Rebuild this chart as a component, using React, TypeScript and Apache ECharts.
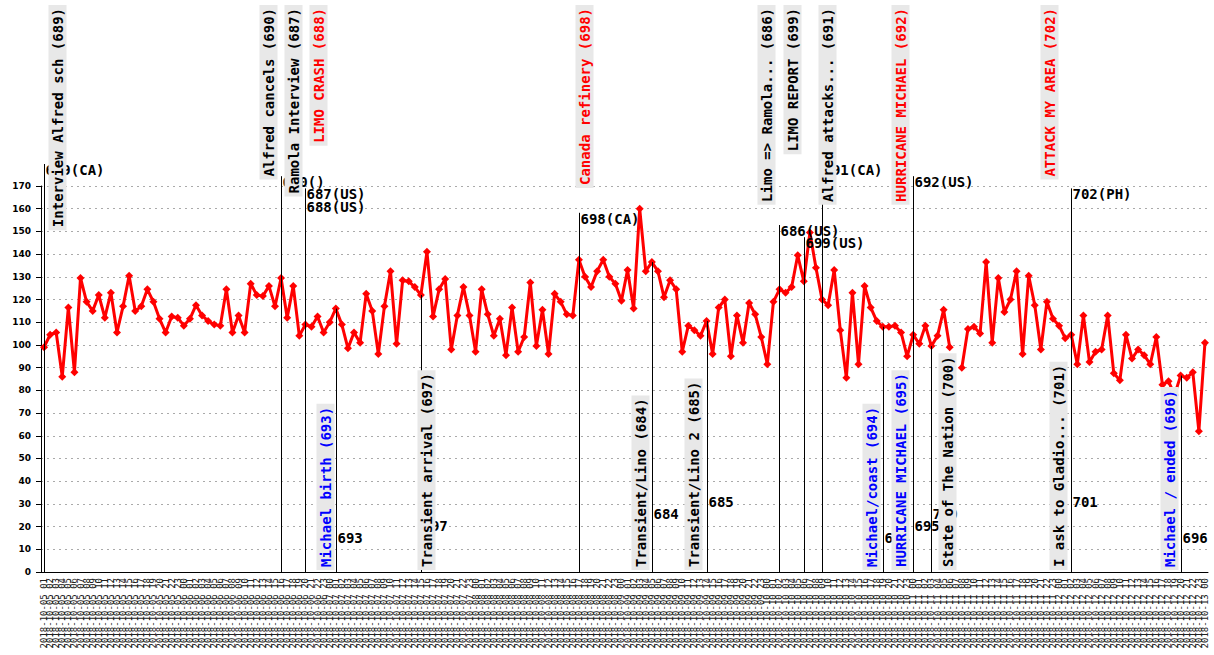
import React, { useEffect, useRef } from "react";
import * as echarts from "echarts";

// ---------- data ----------
const startDay = 5;
const categories: string[] = [];
for (let i = 0; i < 192; i++) {
  const h = (i + 1) % 24;
  const d = startDay + Math.floor((i + 1) / 24);
  categories.push(`2018-10-${String(d).padStart(2, "0")} ${String(h).padStart(2, "0")}`);
}

const values: (number | null)[] = [
  99, 104.5, 105.5, 86, 116.5, 88, 129.5, 119, 115, 122,
  112, 123, 105.5, 117, 130.5, 115, 117, 124.5, 119, 111.5,
  105.5, 112.5, 112, 108.5, 111.5, 117.5, 113, 110.5, 109, 108.5,
  124.5, 105.5, 113, 105.5, 127, 122, 121.5, 126, 117, 129.5,
  112, 126, 104, 109, 108, 112.5, 105.5, 110, 116, 109,
  98.5, 105.5, 101, 122.5, 115, 96, 117, 132.5, 100.5, 128.5,
  128, 125.5, 122, 141, 112.5, 124.5, 129, 98, 113, 125.5,
  113, 97, 124.5, 113.5, 104, 111.5, 95.5, 116.5, 97, 103.5,
  127.5, 99.5, 115.5, 96, 122.5, 119, 113.5, 113, 137.5, 130,
  125.5, 132.5, 137.5, 130, 127, 119.5, 133, 116, 160, 132.5,
  136.5, 132.5, 121, 128.5, 124.5, 97, 108.5, 106.5, 104, 110.5,
  96, 116.5, 120, 95, 113, 101, 118.5, 113.5, 103.5, 91.5,
  119, 124.5, 123, 125.5, 139.5, 128, 149.5, 134, 120, 117.5,
  133, 106.5, 85.5, 123, 91.5, 126, 116.5, 110.5, 108, 108,
  108.5, 105.5, 95, 104.5, 100.5, 108.5, 99.5, 104, 115.5, 99,
  null, 90, 107, 108, 105, 136.5, 101, 129.5, 114.5, 120,
  132.5, 96, 130.5, 117.5, 98, 119, 111.5, 108.5, 103, 104.5,
  91.5, 113, 92.5, 97, 98, 113, 87.5, 84.5, 104.5, 94,
  98, 95.5, 91.5, 103.5, 82.5, 84, 78, 86.5, 85.5, 88,
  62, 101,
];

// events shown above the plot (line from the label down to the axis)
const topIdx = [0, 39, 43, 43, 88, 121, 125, 128, 143, 169];
const topTitles = [
  "Interview Alfred sch (689)",
  "Alfred cancels (690)",
  "Ramola Interview (687)",
  "LIMO CRASH (688)",
  "Canada refinery (698)",
  "Limo => Ramola... (686)",
  "LIMO REPORT (699)",
  "Alfred attacks... (691)",
  "HURRICANE MICHAEL (692)",
  "ATTACK MY AREA (702)",
];
const topTags = ["689(CA)", "690()", "687(US)", "688(US)", "698(CA)", "686(US)", "699(US)", "691(CA)", "692(US)", "702(PH)"];
const topColors = ["#000000", "#000000", "#000000", "#ff0000", "#ff0000", "#000000", "#000000", "#000000", "#ff0000", "#ff0000"];

// events shown below (line from the data point down to the axis)
const bottomIdx = [48, 62, 100, 109, 138, 143, 146, 169, 187];
const bottomTitles = [
  "Michael birth (693)",
  "Transient arrival (697)",
  "Transient/Lino (684)",
  "Transient/Lino 2 (685)",
  "Michael/coast (694)",
  "HURRICANE MICHAEL (695)",
  "State of The Nation (700)",
  "I ask to Gladio... (701)",
  "Michael / ended (696)",
];
const bottomTags = ["693", "697", "684", "685", "694", "695", "700", "701", "696"];
const bottomColors = ["#0000ff", "#000000", "#000000", "#000000", "#0000ff", "#0000ff", "#000000", "#000000", "#0000ff"];

// ---------- layout ----------
const topBoxOffset = [13, -13, -12, 13, 5, -13, -12, 5, -13, -22];
const topTagRow = [0, 1, 2, 3, 4, 5, 6, 0, 1, 2];
const bottomBoxOffset = [-11, 5, -12, -14, -12, -13, 16, -13, -12];
const bottomTagRow = [0, 1, 2, 3, 0, 1, 2, 3, 0];

const MONO = '"DejaVu Sans Mono", monospace';

export default function App() {
  const ref = useRef<HTMLDivElement>(null);
  useEffect(() => {
    if (!ref.current) return;
    const chart = echarts.init(ref.current, null, { renderer: "svg" });
    chart.setOption({
      animation: false,
      backgroundColor: "#ffffff",
      grid: { left: 41, right: 6, top: 186, bottom: 83, containLabel: false },
      xAxis: {
        type: "category",
        data: categories,
        boundaryGap: true,
        axisLine: { lineStyle: { color: "#000", width: 1 } },
        axisTick: { show: false },
        axisLabel: {
          interval: 0,
          rotate: 90,
          fontSize: 9,
          fontFamily: MONO,
          color: "#222",
          margin: 6,
        },
        splitLine: { show: false },
      },
      yAxis: {
        type: "value",
        min: 0,
        max: 170,
        interval: 10,
        axisLine: { show: true, lineStyle: { color: "#000", width: 1 } },
        axisTick: { show: true, length: 5, lineStyle: { color: "#000" } },
        axisLabel: {
          fontSize: 9,
          fontWeight: "bold",
          fontFamily: '"DejaVu Sans", sans-serif',
          color: "#000",
          margin: 10,
        },
        splitLine: { show: true, lineStyle: { color: "#aaaaaa", type: [2, 4], width: 1 } },
      },
      series: [
        {
          type: "line",
          data: values,
          connectNulls: false,
          lineStyle: { color: "#ff0000", width: 3 },
          itemStyle: { color: "#ff0000" },
          symbol: "diamond",
          symbolSize: 8,
          z: 2,
        },
      ],
    });

    const toPx = (i: number, v: number) =>
      chart.convertToPixel({ seriesIndex: 0 }, [i, v]) as number[];
    const axisY = toPx(0, 0)[1];
    const font = `bold 14px ${MONO}`;
    const els: any[] = [];

    topIdx.forEach((idx, k) => {
      const x = Math.round(toPx(idx, 0)[0]) + 0.5;
      const ty = 170 + 12.2 * topTagRow[k];
      els.push({ type: "line", z: 50, shape: { x1: x, y1: ty - 6, x2: x, y2: axisY }, style: { stroke: "#000", lineWidth: 1 } });
      els.push({ type: "text", z: 60, x: x + 1, y: ty, style: { text: topTags[k], fill: "#000", font, align: "left", verticalAlign: "middle" } });
      els.push({
        type: "text", z: 70, x: x + topBoxOffset[k], y: 5, rotation: Math.PI / 2,
        style: { text: topTitles[k], fill: topColors[k], font, align: "right", verticalAlign: "middle", backgroundColor: "#e8e8e8", padding: [2, 3, 2, 3] },
      });
    });

    bottomIdx.forEach((idx, k) => {
      const v = values[idx] as number;
      const p = toPx(idx, v);
      const x = Math.round(p[0]) + 0.5;
      const ty = 538 - 12 * bottomTagRow[k];
      els.push({ type: "line", z: 50, shape: { x1: x, y1: p[1], x2: x, y2: axisY }, style: { stroke: "#000", lineWidth: 1 } });
      els.push({ type: "text", z: 60, x: x + 1, y: ty, style: { text: bottomTags[k], fill: "#000", font, align: "left", verticalAlign: "middle" } });
      els.push({
        type: "text", z: 70, x: x + bottomBoxOffset[k], y: axisY - 2, rotation: Math.PI / 2,
        style: { text: bottomTitles[k], fill: bottomColors[k], font, align: "left", verticalAlign: "middle", backgroundColor: "#e8e8e8", padding: [2, 3, 2, 3] },
      });
    });

    chart.setOption({ graphic: { elements: els } });
    return () => chart.dispose();
  }, []);
  return (
    <div
      ref={ref}
      style={{ position: "fixed", left: 0, top: 0, width: 1214, height: 655, background: "#fff" }}
    />
  );
}
